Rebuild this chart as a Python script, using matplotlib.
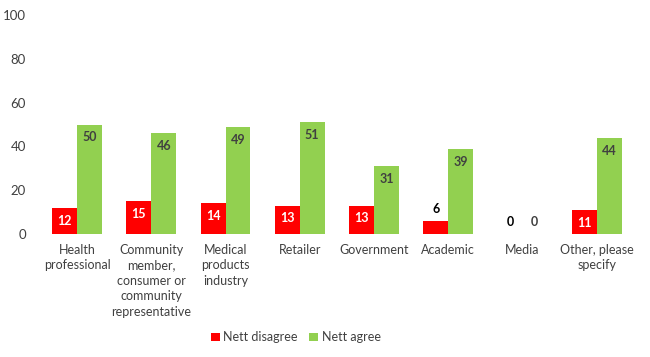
import matplotlib
matplotlib.use("Agg")
import matplotlib.pyplot as plt
import numpy as np

categories = ["Health\nprofessional",
              "Community\nmember,\nconsumer or\ncommunity\nrepresentative",
              "Medical\nproducts\nindustry",
              "Retailer", "Government", "Academic", "Media",
              "Other, please\nspecify"]
nett_disagree = [12, 15, 14, 13, 13, 6, 0, 11]
nett_agree = [50, 46, 49, 51, 31, 39, 0, 44]
yticks = [0, 20, 40, 60, 80, 100]

plt.rcParams['font.family'] = ['Lato', 'DejaVu Sans']

fig = plt.figure(figsize=(6.5, 3.57), dpi=100)
ax = fig.add_axes([0.0615, 0.3445, 0.9135, 0.6135])

x = np.arange(len(categories))
w = 0.335
red = "#FF0000"
green = "#92D050"
b1 = ax.bar(x - w/2, nett_disagree, w, color=red, label="Nett disagree")
b2 = ax.bar(x + w/2, nett_agree, w, color=green, label="Nett agree")

for xi, v in zip(x - w/2, nett_disagree):
    if v >= 10:
        ax.annotate(str(v), (xi, v), xytext=(0, -5), textcoords="offset points",
                    ha="center", va="top", color="white", fontweight="bold", fontsize=9)
    else:
        ax.annotate(str(v), (xi, v), xytext=(0, 4), textcoords="offset points",
                    ha="center", va="bottom", color="black", fontweight="bold", fontsize=9)
for xi, v in zip(x + w/2, nett_agree):
    if v >= 10:
        ax.annotate(str(v), (xi, v), xytext=(0, -5), textcoords="offset points",
                    ha="center", va="top", color="#404040", fontweight="bold", fontsize=9)
    else:
        ax.annotate(str(v), (xi, v), xytext=(0, 4), textcoords="offset points",
                    ha="center", va="bottom", color="#404040", fontweight="bold", fontsize=9)

ax.set_xlim(-0.5, len(categories) - 0.5)
ax.set_ylim(0, 100)
ax.set_yticks(yticks)
ax.set_xticks(x)
ax.set_xticklabels(categories, fontsize=9, color="#404040", linespacing=1.35)
ax.tick_params(axis="y", labelsize=9.5, colors="#404040", length=0, pad=10)
ax.tick_params(axis="x", length=0, pad=7)
for s in ax.spines.values():
    s.set_visible(False)

fig.legend(handles=[b1, b2], labels=["Nett disagree", "Nett agree"],
           loc="center", bbox_to_anchor=(0.455, 0.055), ncol=2, frameon=False,
           fontsize=9, handlelength=0.7, handleheight=0.7, handletextpad=0.3,
           columnspacing=0.9, labelcolor="#404040")

fig.savefig("out.png", dpi=100)
